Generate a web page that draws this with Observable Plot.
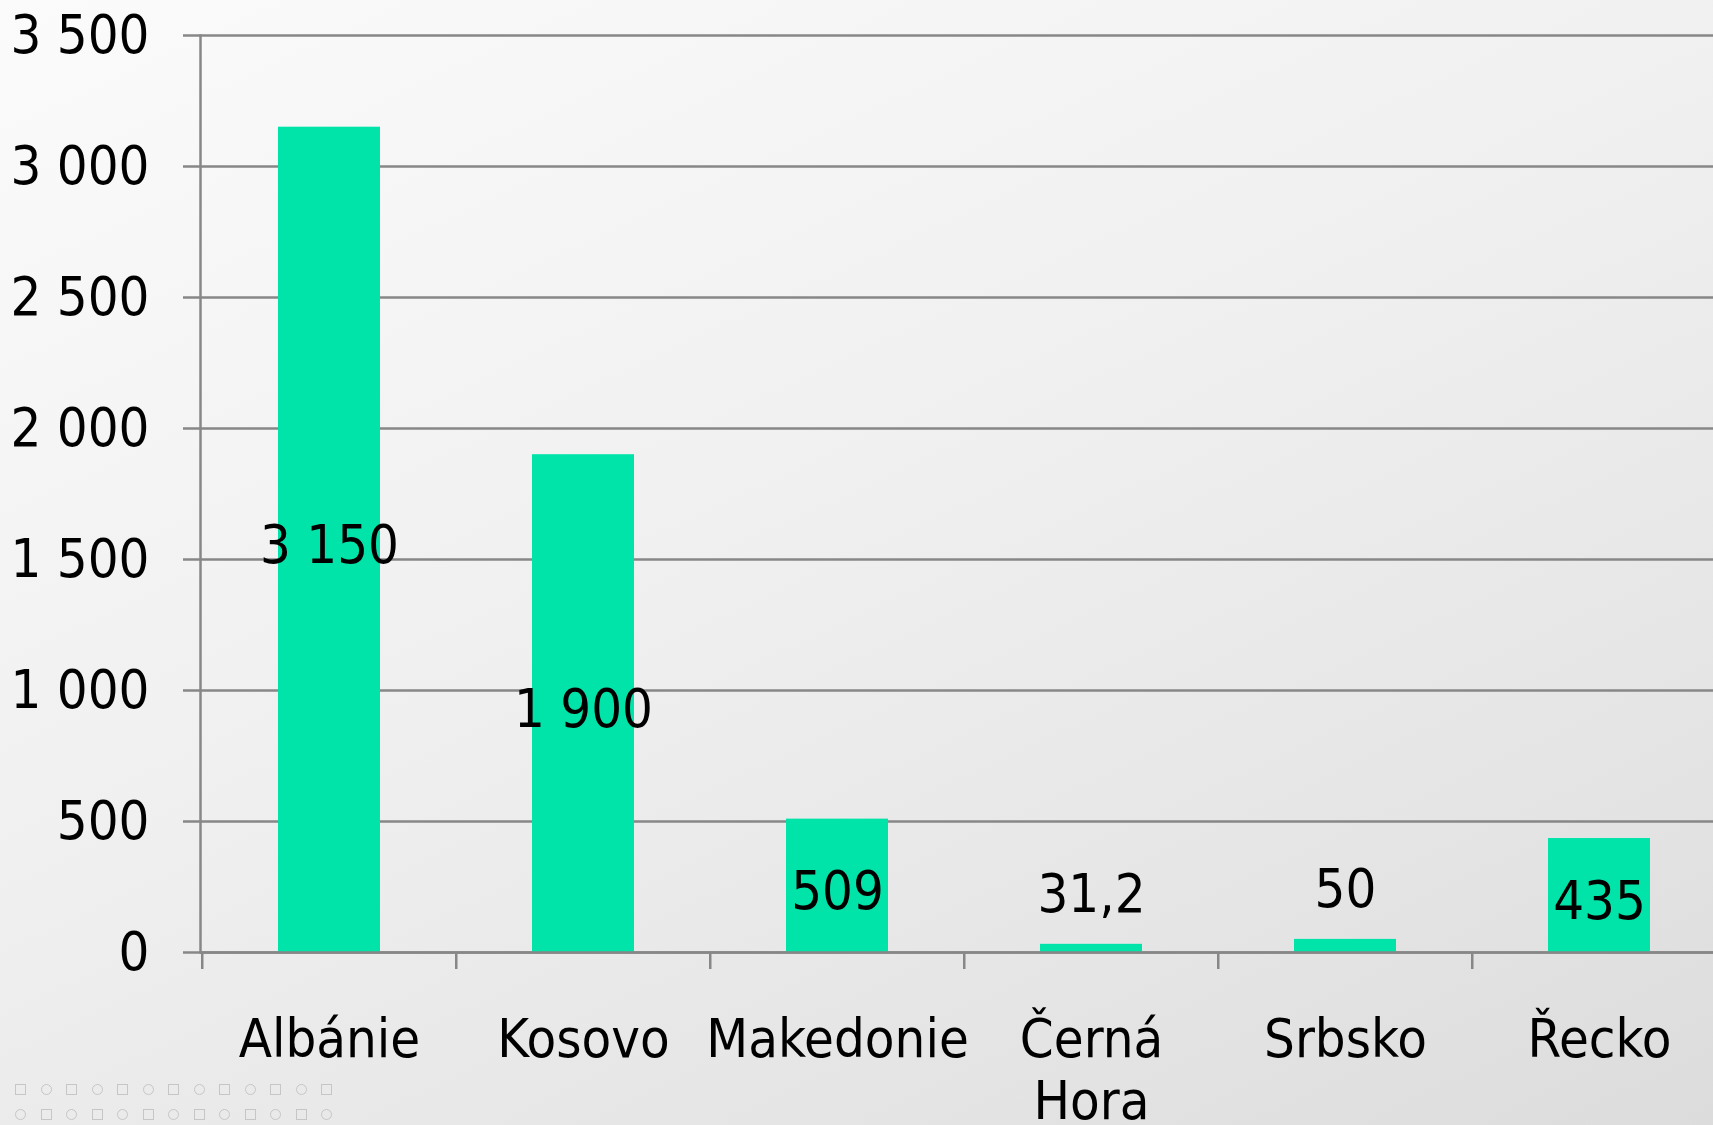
<!DOCTYPE html>
<html>
<head>
<meta charset="utf-8">
<script src="https://cdn.jsdelivr.net/npm/d3@7"></script>
<script src="https://cdn.jsdelivr.net/npm/@observablehq/plot@0.6"></script>
<style>
  html, body { margin: 0; padding: 0; width: 1713px; height: 1125px; overflow: hidden; }
  body { background: linear-gradient(155deg, #fbfbfb 0%, #f0f0f0 45%, #e4e4e4 80%, #dcdcdc 100%); position: relative; }
  #chart { position: absolute; left: 0; top: 0; }
  #chart svg { max-width: none !important; }
  .deco { position: absolute; left: 15px; display: flex; gap: 14.5px; }
  .deco span { display: block; width: 11px; height: 11px; border: 1px solid #c6c6c6; box-sizing: border-box; }
  .deco span.c { border-radius: 50%; }
</style>
</head>
<body>
<div id="chart"></div>
<div class="deco" id="row1" style="top:1084px"></div>
<div class="deco" id="row2" style="top:1109px"></div>
<script>
// ---- data ----
const categories = ["Albánie", "Kosovo", "Makedonie", "Černá Hora", "Srbsko", "Řecko"];
const values = [3150, 1900, 509, 31.2, 50, 435];
const yTicks = [0, 500, 1000, 1500, 2000, 2500, 3000, 3500];

const data = categories.map((c, i) => ({cat: c, value: values[i]}));

const cz = d3.formatLocale({decimal: ",", thousands: " ", grouping: [3], currency: ["", " Kč"]});
const fmtTick = cz.format(",");
const fmtVal = v => cz.format(",")(v);

const W = 1727, H = 1125, ML = 200, MR = 0, MT = 35, MB = 173;
const step = (W - ML - MR) / categories.length;
const gridColor = "#878787";
const font = "'DejaVu Sans Condensed', 'DejaVu Sans', sans-serif";
const FS = 54;

const chart = Plot.plot({
  width: W, height: H,
  marginLeft: ML, marginRight: MR, marginTop: MT, marginBottom: MB,
  style: {background: "transparent", fontFamily: font, fontSize: FS + "px", color: "#000", overflow: "visible", maxWidth: "none"},
  x: {domain: categories, padding: 0},
  y: {domain: [0, 3500]},
  marks: [
    Plot.gridY(yTicks, {stroke: gridColor, strokeOpacity: 1, strokeWidth: 2.5}),
    Plot.axisY(yTicks, {tickSize: 17, tickPadding: 34, stroke: gridColor, strokeWidth: 2.5, tickFormat: fmtTick, fontSize: FS, label: null}),
    Plot.barY(data, {x: "cat", y: "value", fill: "#00E4A9", insetLeft: 76, insetRight: 76}),
    Plot.frame({anchor: "left", stroke: gridColor, strokeWidth: 2.5}),
    Plot.ruleY([0], {stroke: gridColor, strokeWidth: 2.5}),
    Plot.axisX({tickSize: 17, tickFormat: () => "", dx: -step / 2, stroke: gridColor, strokeWidth: 2.5, label: null}),
    Plot.axisX({tickSize: 0, tickPadding: 60, tickFormat: d => d.replace(" ", "\n"), lineHeight: 1.15, fontSize: FS, label: null}),
    Plot.text(data.filter(d => d.value >= 100), {x: "cat", y: d => d.value / 2, text: d => fmtVal(d.value), dy: 6, fontSize: FS, fill: "#000"}),
    Plot.text(data.filter(d => d.value < 100), {x: "cat", y: "value", text: d => fmtVal(d.value), dy: -50, fontSize: FS, fill: "#000"})
  ]
});
document.getElementById("chart").appendChild(chart);

// decorative pattern (bottom-left)
function fillRow(id, startCircle) {
  const row = document.getElementById(id);
  for (let i = 0; i < 13; i++) {
    const s = document.createElement("span");
    if ((i % 2 === 0) === startCircle) s.className = "c";
    row.appendChild(s);
  }
}
fillRow("row1", false);
fillRow("row2", true);
</script>
</body>
</html>
